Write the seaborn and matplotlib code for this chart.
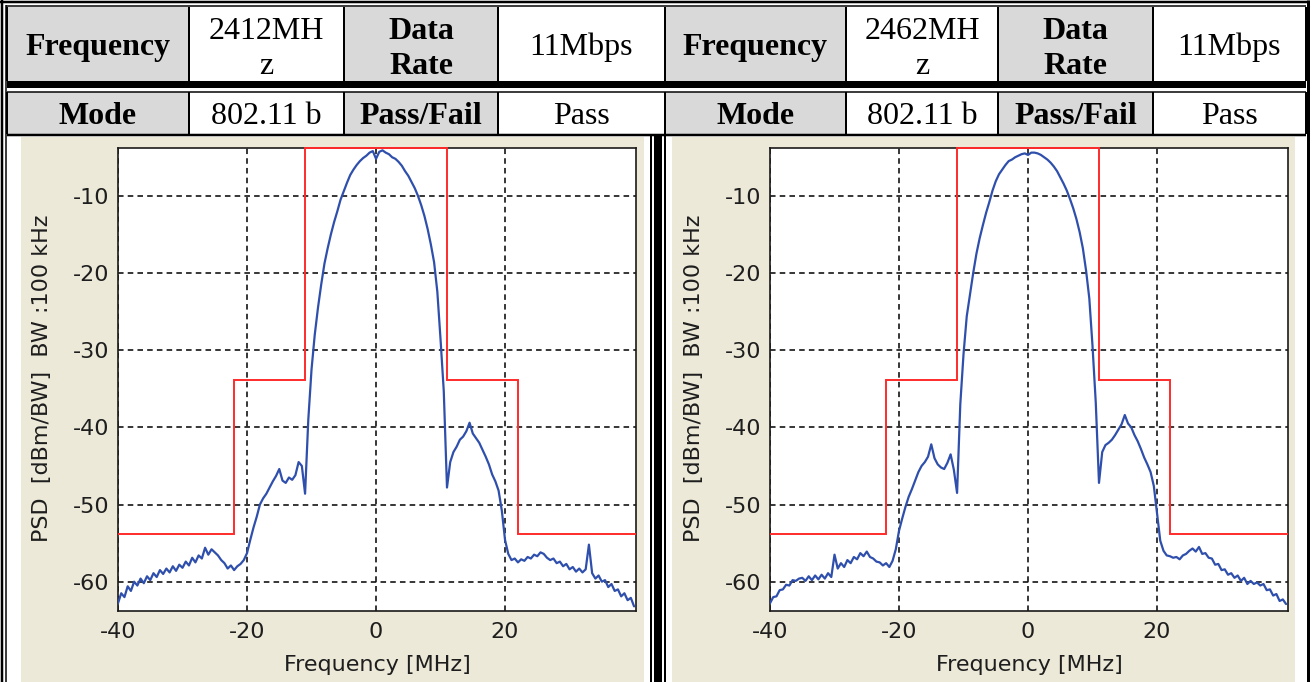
import numpy as np
import pandas as pd
import matplotlib
matplotlib.use("Agg")
import matplotlib.pyplot as plt
import seaborn as sns
from matplotlib.patches import Rectangle

# ---------------- data ----------------
freq_start, freq_stop, freq_step = -40.0, 40.0, 0.5

psd_2412 = [
    -62.8, -61.5, -62.0, -60.6, -61.2, -60.0, -60.5, -59.6, -60.2, -59.3,
    -59.8, -58.9, -59.4, -58.5, -59.0, -58.3, -58.8, -58.0, -58.6, -57.8,
    -58.2, -57.4, -57.9, -56.9, -57.5, -56.6, -57.0, -55.6, -56.5, -55.8,
    -56.2, -56.6, -57.2, -57.6, -58.3, -57.9, -58.5, -58.0, -57.7, -57.2,
    -56.3, -54.6, -53.0, -51.6, -50.0, -49.2, -48.6, -47.8, -47.0, -46.3,
    -45.4, -46.9, -47.2, -46.5, -46.8, -46.2, -44.5, -45.0, -48.6, -39.0,
    -32.5, -28.0, -24.5, -21.5, -18.8, -16.8, -15.0, -13.4, -12.0, -10.5,
    -9.4, -8.3, -7.3, -6.6, -6.0, -5.5, -5.1, -4.8, -4.4, -4.2,
    -5.2, -4.3, -4.1, -4.4, -4.6, -5.0, -5.2, -5.6, -6.1, -6.8,
    -7.4, -8.2, -9.0, -10.0, -11.2, -12.6, -14.3, -16.3, -18.6, -22.4,
    -28.6, -35.3, -47.8, -44.5, -43.2, -42.5, -41.6, -41.2, -40.5, -39.4,
    -40.8, -41.4, -42.0, -42.9, -43.8, -44.8, -46.1, -47.0, -48.2, -50.8,
    -54.6, -56.4, -57.2, -57.0, -57.5, -57.1, -57.3, -56.8, -57.0, -56.5,
    -56.7, -56.2, -56.4, -56.9, -57.2, -57.0, -57.6, -57.4, -58.0, -57.7,
    -58.4, -58.1, -58.7, -58.3, -58.8, -58.4, -55.2, -58.9, -59.6, -59.2,
    -60.0, -59.8, -60.7, -60.3, -61.2, -61.0, -61.9, -61.5, -62.4, -62.1,
    -63.2,
]

psd_2462 = [
    -62.8, -62.0, -61.9, -61.1, -61.0, -60.4, -60.5, -59.8, -59.9, -59.6,
    -59.5, -59.9, -59.3, -59.8, -59.2, -59.7, -59.1, -59.6, -58.9, -59.4,
    -56.5, -58.3, -57.6, -58.1, -57.2, -57.6, -56.8, -57.1, -56.3, -56.7,
    -56.1, -56.8, -57.0, -57.4, -57.5, -57.9, -57.6, -58.1, -57.3, -55.8,
    -53.4, -51.8, -50.3, -49.0, -48.0, -46.9, -45.8, -45.0, -44.5, -43.8,
    -42.2, -44.0, -44.8, -45.2, -45.4, -44.6, -43.5, -45.5, -48.5, -37.0,
    -30.5, -25.6, -22.8, -20.0, -17.5, -15.5, -13.8, -12.2, -10.8, -9.3,
    -8.1, -7.2, -6.6, -6.0, -5.5, -5.3, -5.0, -4.8, -4.6, -4.5,
    -4.7, -4.4, -4.4, -4.5, -4.7, -5.0, -5.3, -5.7, -6.2, -6.8,
    -7.6, -8.4, -9.3, -10.4, -11.6, -13.0, -14.7, -16.8, -19.7, -23.3,
    -29.5, -36.8, -47.2, -43.2, -42.3, -42.0, -41.6, -41.0, -40.3, -39.6,
    -38.4, -39.5, -40.0, -41.0, -41.8, -42.8, -43.9, -44.8, -45.8, -47.6,
    -51.2, -54.7, -56.0, -56.6, -56.7, -56.9, -56.8, -57.1, -56.6, -56.4,
    -56.0, -55.7, -56.1, -55.5, -56.4, -56.3, -56.9, -57.0, -57.8, -57.7,
    -58.5, -58.4, -59.1, -58.9, -59.5, -59.2, -59.9, -59.5, -60.3, -59.9,
    -60.3, -60.1, -60.5, -60.3, -61.1, -61.0, -61.8, -61.6, -62.5, -62.3,
    -62.9,
]

mask_edges = [-40.0, -22.0, -11.0, 11.0, 22.0, 40.3]
mask_2412 = [-53.8, -33.8, -3.8, -33.8, -53.8]
mask_2462 = [-53.8, -33.8, -3.8, -33.8, -53.8]

x_ticks = [-40, -20, 0, 20]
y_ticks = [-10, -20, -30, -40, -50, -60]
x_lim = (-40.0, 40.3)
y_lim = (-63.8, -3.8)

x_label = "Frequency [MHz]"
y_label = "PSD  [dBm/BW]  BW :100 kHz"

table_left = [["Frequency", "2412MH\nz", "Data\nRate", "11Mbps"],
              ["Mode", "802.11 b", "Pass/Fail", "Pass"]]
table_right = [["Frequency", "2462MH\nz", "Data\nRate", "11Mbps"],
               ["Mode", "802.11 b", "Pass/Fail", "Pass"]]

# ---------------- style ----------------
sns.set_style("white")
plt.rcParams['font.family'] = ['DejaVu Sans']
plt.rcParams['axes.unicode_minus'] = False
plt.rcParams['lines.scale_dashes'] = False

BLUE = "#2f4fac"
RED = "#ff2b2b"
BEIGE = "#ece9d8"
GREY = "#d9d9d9"
TXT = "#1e1e1e"

W, H = 1312, 682
PX = 0.72  # points per pixel at dpi 100

fig = plt.figure(figsize=(W / 100, H / 100), dpi=100, facecolor="white")
bg = fig.add_axes([0, 0, 1, 1], zorder=-1)
bg.set_xlim(0, W)
bg.set_ylim(H, 0)
bg.axis("off")


def hline(y, x0, x1, w):
    bg.plot([x0, x1], [y, y], color="black", lw=w * PX, solid_capstyle="butt")


def vline(x, y0, y1, w):
    bg.plot([x, x], [y0, y1], color="black", lw=w * PX, solid_capstyle="butt")


def rect(x0, y0, x1, y1, color):
    bg.add_patch(Rectangle((x0, y0), x1 - x0, y1 - y0, facecolor=color,
                           edgecolor="none"))


# beige plot panels
rect(21, 137, 644, H, BEIGE)
rect(672, 137, 1295, H, BEIGE)

# table geometry
row1 = (7, 81)
row2 = (92, 134)
cols_left = [7, 189, 344, 498, 665]
cols_right = [665, 846, 998, 1153, 1306]

for cols, table in ((cols_left, table_left), (cols_right, table_right)):
    for ri, (ya, yb) in enumerate((row1, row2)):
        for ci in range(4):
            xa, xb = cols[ci], cols[ci + 1]
            if ci in (0, 2):
                rect(xa + 1, ya, xb - 1, yb, GREY)
            txt = table[ri][ci]
            bold = ci in (0, 2)
            xc = (xa + xb) / 2
            lines = txt.split("\n")
            if len(lines) == 1:
                bases = [55] if ri == 0 else [124]
            else:
                bases = [39, 74]
            for ln, yb_ in zip(lines, bases):
                bg.text(xc, yb_, ln, ha="center", va="baseline",
                        fontsize=23, family="Liberation Serif",
                        fontweight="bold" if bold else "normal",
                        color="black")
        for x in cols:
            vline(x, ya, yb, 2)

# row separators
rect(7, 81, 1306, 88, "black")
hline(91.5, 7, 1306, 1.5)
hline(135, 7, 1306, 2.5)

# outer border
hline(2, 0, 1310, 2.5)
hline(5.5, 5.5, 1306, 1.5)
vline(2, 0, H, 2.5)
vline(6, 5, H, 1.5)
vline(1307.5, 0, H, 3)

# divider between the two plot panels
vline(651, 135, H, 2)
rect(654, 135, 662, H, "black")
vline(665, 135, H, 2)

freq = np.arange(freq_start, freq_stop + freq_step / 2, freq_step)


def panel(x0, x1, y0, y1, psd, mask):
    ax = fig.add_axes([x0 / W, 1 - y1 / H, (x1 - x0) / W, (y1 - y0) / H])
    ax.set_facecolor("white")
    df = pd.DataFrame({"f": freq, "psd": psd})
    sns.lineplot(data=df, x="f", y="psd", ax=ax, color=BLUE, lw=1.6,
                 estimator=None, sort=False, zorder=2.6)
    ax.stairs(mask, mask_edges, baseline=None, color=RED, lw=1.4,
              zorder=3, clip_on=False)
    ax.set_xlim(*x_lim)
    ax.set_ylim(*y_lim)
    ax.set_xticks(x_ticks)
    ax.set_yticks(y_ticks)
    ax.grid(True, color="black", linestyle=(0, (4, 3)), lw=1.1)
    ax.set_axisbelow(True)
    for s in ax.spines.values():
        s.set_visible(True)
        s.set_color("#1a1a1a")
        s.set_linewidth(1.2)
    ax.tick_params(axis="both", direction="in", length=4, width=0.8,
                   labelsize=16, labelcolor=TXT, color="black")
    ax.tick_params(axis="x", pad=8)
    ax.tick_params(axis="y", pad=6)
    ax.set_xlabel(x_label, fontsize=16, color=TXT)
    ax.set_ylabel(y_label, fontsize=16, color=TXT)
    ax.xaxis.set_label_coords(0.5, (y1 - 665) / (y1 - y0))
    ax.xaxis.label.set_va("center")
    ax.yaxis.set_label_coords((x0 - 76 - x0) / (x1 - x0), (y1 - 378) / (y1 - y0))
    ax.yaxis.label.set_va("center")
    return ax


panel(118, 636, 148, 611, psd_2412, mask_2412)
panel(770, 1288, 148, 611, psd_2462, mask_2462)

fig.savefig("out.png", dpi=100, facecolor="white")
